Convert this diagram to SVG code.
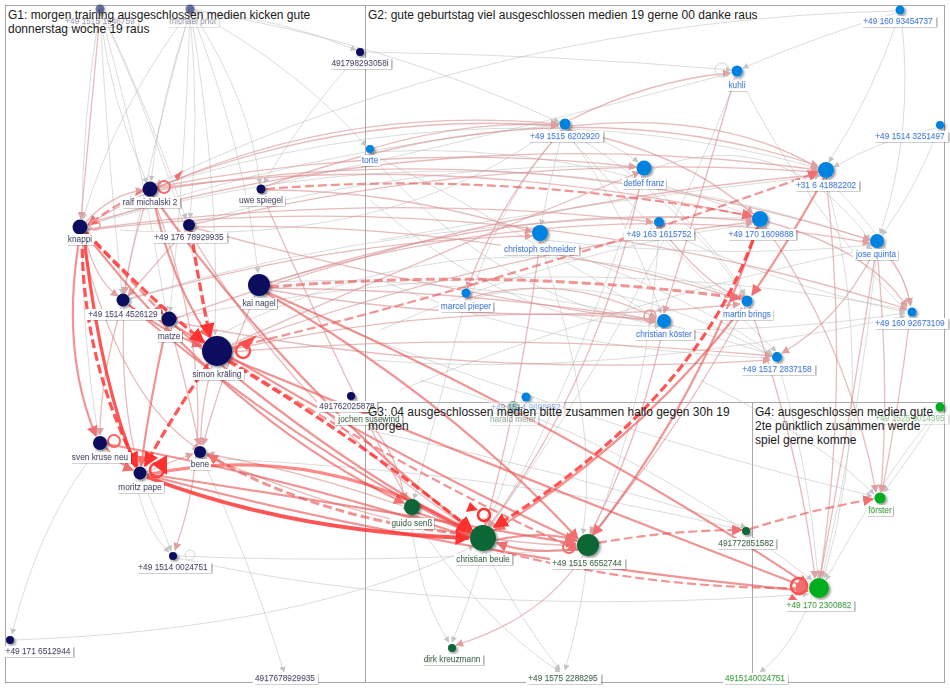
<svg xmlns="http://www.w3.org/2000/svg" width="950" height="688" viewBox="0 0 950 688">
<style>
.bx{fill:none;stroke:#a8a8a8;stroke-width:1}
.tt{font-family:"Liberation Sans",Arial,sans-serif;font-size:12px;fill:#1a1a1a}
.lb{font-family:"Liberation Sans",Arial,sans-serif;font-size:8.3px;text-anchor:middle;stroke-width:.25}
.t1{fill:#0a1262;stroke:#0a1262}.t2{fill:#0a7fdc;stroke:#0a7fdc}.t3{fill:#0b6634;stroke:#0b6634}.t4{fill:#08a81e;stroke:#08a81e}
.c1{fill:#081060}.c2{fill:#0683e0}.c3{fill:#0a6634}.c4{fill:#00ad1f}
.fd{opacity:.55}
#edges path{fill:none}
.g{stroke:#bcbcbc;stroke-width:.7;stroke-opacity:.75;marker-end:url(#mg)}
.l{stroke:#d98f8f;stroke-width:1.3;stroke-opacity:.6;marker-end:url(#ml)}
.m{stroke:#e85a5a;stroke-width:2.2;stroke-opacity:.65;marker-end:url(#mm)}
.s{stroke:#ff2a2a;stroke-width:3.2;stroke-opacity:.8;marker-end:url(#ms)}
.d{stroke-dasharray:9 4}
.lp{fill:none}
</style>
<defs>
<marker id="mg" viewBox="0 0 10 10" refX="9" refY="5" markerWidth="6" markerHeight="6" markerUnits="userSpaceOnUse" orient="auto"><path d="M0,0L10,5L0,10z" fill="#c4c4c4"/></marker>
<marker id="ml" viewBox="0 0 10 10" refX="9" refY="5" markerWidth="8" markerHeight="8" markerUnits="userSpaceOnUse" orient="auto"><path d="M0,0L10,5L0,10z" fill="#e0a0a0"/></marker>
<marker id="mm" viewBox="0 0 10 10" refX="9" refY="5" markerWidth="11" markerHeight="11" markerUnits="userSpaceOnUse" orient="auto"><path d="M0,0L10,5L0,10z" fill="#f07070"/></marker>
<marker id="ms" viewBox="0 0 10 10" refX="9" refY="5" markerWidth="15" markerHeight="15" markerUnits="userSpaceOnUse" orient="auto"><path d="M0,0L10,5L0,10z" fill="#ff3030"/></marker>
<filter id="lbf" x="-0.2" y="-0.4" width="1.5" height="2" primitiveUnits="objectBoundingBox">
<feFlood flood-color="#000" flood-opacity="0.3" x="0.01" y="0.15" width="1.05" height="1" result="s0"/>
<feGaussianBlur in="s0" stdDeviation="0.02 0.15" result="s"/>
<feFlood flood-color="#fff" x="-0.03" y="0" width="1.06" height="1.02" result="w"/>
<feMerge><feMergeNode in="s"/><feMergeNode in="w"/><feMergeNode in="SourceGraphic"/></feMerge>
</filter>
<filter id="nsh" x="-50%" y="-50%" width="200%" height="200%">
<feDropShadow dx="1.8" dy="1.8" stdDeviation="1.1" flood-opacity="0.4"/>
</filter>
</defs>
<rect width="950" height="688" fill="#fff"/>
<g id="groups">
<rect class="bx" x="5.5" y="5.5" width="939" height="677"/>
<line class="bx" x1="365.5" y1="5.5" x2="365.5" y2="682.5"/>
<line class="bx" x1="365.5" y1="402.5" x2="944.5" y2="402.5"/>
<line class="bx" x1="752.5" y1="402.5" x2="752.5" y2="682.5"/>
</g>
<g id="edges">
<path class="g" d="M190 13 Q160 100 151 181"/>
<path class="g" d="M188 13 Q115 110 83 219"/>
<path class="g" d="M190 14 Q200 120 190 218"/>
<path class="g" d="M190 14 Q185 170 170 312"/>
<path class="g" d="M191 14 Q220 190 215 335"/>
<path class="g" d="M192 13 Q245 150 258 273"/>
<path class="g" d="M193 13 Q250 100 260 184"/>
<path class="g" d="M195 10 Q285 20 356 50"/>
<path class="g" d="M195 12 Q300 70 366 146"/>
<path class="g" d="M189 14 Q150 150 124 294"/>
<path class="g" d="M196 11 Q380 40 559 122"/>
<path class="g" d="M100 14 Q110 100 147 183"/>
<path class="g" d="M100 14 Q108 160 122 294"/>
<path class="g" d="M101 14 Q145 170 166 312"/>
<path class="g" d="M102 13 Q150 110 186 219"/>
<path class="g" d="M102 13 Q180 180 212 336"/>
<path class="g" d="M99 14 Q65 230 98 435"/>
<path class="g" d="M357 56 Q300 120 264 183"/>
<path class="g" d="M365 52 Q560 55 731 70"/>
<path class="g" d="M895 11 Q500 20 156 184"/>
<path class="g" d="M896 13 Q820 35 743 68"/>
<path class="g" d="M899 15 Q875 90 829 162"/>
<path class="g" d="M901 15 Q915 130 880 234"/>
<path class="g" d="M936 128 Q880 140 834 167"/>
<path class="g" d="M938 131 Q915 190 882 235"/>
<path class="g" d="M568 129 Q610 140 638 162"/>
<path class="g" d="M563 130 Q550 180 541 225"/>
<path class="g" d="M567 130 Q680 200 744 295"/>
<path class="g" d="M566 130 Q630 220 661 313"/>
<path class="g" d="M97 450 Q40 520 12 634"/>
<path class="g" d="M142 480 Q160 520 171 551"/>
<path class="g" d="M136 480 Q145 530 169 552"/>
<path class="g" d="M177 556 Q400 565 576 548"/>
<path class="g" d="M177 558 Q450 620 808 594"/>
<path class="g" d="M202 458 Q250 560 284 672"/>
<path class="g" d="M410 515 Q420 600 449 642"/>
<path class="g" d="M483 552 Q470 600 452 642"/>
<path class="g" d="M486 552 Q520 620 560 670"/>
<path class="g" d="M588 556 Q580 620 565 670"/>
<path class="g" d="M412 515 Q480 620 560 672"/>
<path class="g" d="M812 597 Q790 650 760 672"/>
<path class="g" d="M940 411 Q915 450 884 492"/>
<path class="g" d="M938 410 Q880 480 826 580"/>
<path class="g" d="M14 640 Q300 630 474 546"/>
<path class="g" d="M88 225 Q480 110 870 240"/>
<path class="g" d="M157 186 Q500 80 818 168"/>
<path class="g" d="M265 186 Q520 130 731 73"/>
<path class="g" d="M216 336 Q480 200 740 298"/>
<path class="g" d="M263 282 Q520 270 772 355"/>
<path class="g" d="M176 318 Q550 240 907 310"/>
<path class="g" d="M130 298 Q420 210 753 218"/>
<path class="g" d="M194 222 Q420 160 637 167"/>
<path class="g" d="M86 226 Q300 150 558 125"/>
<path class="g" d="M370 153 Q520 230 656 318"/>
<path class="g" d="M372 152 Q560 140 752 216"/>
<path class="g" d="M737 77 Q640 320 490 527"/>
<path class="g" d="M644 176 Q560 420 490 528"/>
<path class="g" d="M540 242 Q600 420 583 534"/>
<path class="g" d="M877 249 Q860 420 822 578"/>
<path class="g" d="M826 178 Q880 380 824 578"/>
<path class="g" d="M778 362 Q810 470 818 578"/>
<path class="g" d="M466 299 Q440 400 414 499"/>
<path class="g" d="M526 402 Q510 470 488 526"/>
<path class="g" d="M659 228 Q650 400 592 534"/>
<path class="g" d="M367 430 Q560 470 746 527"/>
<path class="g" d="M200 458 Q500 470 742 530"/>
<path class="g" d="M250 290 Q560 420 872 496"/>
<path class="g" d="M120 230 Q400 250 560 122"/>
<path class="g" d="M470 300 Q600 260 770 355"/>
<path class="g" d="M545 240 Q720 260 872 245"/>
<path class="g" d="M650 170 Q780 120 870 240"/>
<path class="g" d="M740 78 Q800 200 905 310"/>
<path class="g" d="M665 330 Q800 330 905 313"/>
<path class="g" d="M370 155 Q500 300 660 325"/>
<path class="g" d="M380 240 Q600 200 820 176"/>
<path class="g" d="M380 330 Q560 250 752 224"/>
<path class="g" d="M370 360 Q600 380 905 316"/>
<path class="g" d="M400 390 Q620 300 872 248"/>
<path class="g" d="M470 300 Q500 200 562 130"/>
<path class="g" d="M540 242 Q700 300 772 354"/>
<path class="g" d="M660 228 Q760 280 905 312"/>
<path class="g" d="M644 176 Q720 250 745 295"/>
<path class="g" d="M826 178 Q900 250 911 306"/>
<path class="g" d="M370 200 Q520 330 660 326"/>
<path class="g" d="M380 280 Q540 350 770 358"/>
<path class="g" d="M560 128 Q720 300 776 351"/>
<path class="g" d="M700 380 Q820 440 874 494"/>
<path class="g" d="M420 380 Q620 430 812 580"/>
<path class="l" d="M100 14 Q90 120 81 219"/>
<path class="l" d="M570 120 Q650 80 730 73"/>
<path class="l" d="M571 126 Q720 110 818 168"/>
<path class="l" d="M568 130 Q680 150 753 214"/>
<path class="l" d="M562 130 Q500 200 467 289"/>
<path class="l" d="M374 148 Q470 120 558 125"/>
<path class="l" d="M88 224 Q300 100 558 124"/>
<path class="l" d="M157 187 Q350 110 558 126"/>
<path class="l" d="M88 223 Q450 120 818 170"/>
<path class="l" d="M158 188 Q450 150 753 217"/>
<path class="l" d="M158 190 Q520 130 870 240"/>
<path class="l" d="M195 224 Q500 150 818 172"/>
<path class="l" d="M196 227 Q480 220 740 299"/>
<path class="l" d="M266 190 Q400 190 532 232"/>
<path class="l" d="M270 283 Q520 200 753 221"/>
<path class="l" d="M270 282 Q580 190 870 243"/>
<path class="l" d="M231 350 Q450 300 656 320"/>
<path class="l" d="M230 346 Q500 250 753 222"/>
<path class="l" d="M176 318 Q500 200 819 175"/>
<path class="l" d="M130 299 Q330 240 532 236"/>
<path class="l" d="M88 229 Q380 190 653 222"/>
<path class="l" d="M88 230 Q500 180 907 309"/>
<path class="l" d="M230 352 Q500 330 772 356"/>
<path class="l" d="M270 288 Q470 290 656 320"/>
<path class="l" d="M157 187 Q400 140 636 167"/>
<path class="l" d="M735 77 Q700 200 664 313"/>
<path class="l" d="M750 307 Q800 450 815 578"/>
<path class="l" d="M910 316 Q900 400 882 492"/>
<path class="l" d="M877 250 Q890 380 881 492"/>
<path class="l" d="M876 250 Q850 420 820 578"/>
<path class="l" d="M826 178 Q850 380 820 578"/>
<path class="l" d="M765 226 Q850 350 876 492"/>
<path class="l" d="M663 328 Q640 440 590 534"/>
<path class="l" d="M540 242 Q520 400 485 526"/>
<path class="l" d="M642 176 Q600 380 488 527"/>
<path class="l" d="M875 250 Q840 320 782 353"/>
<path class="l" d="M880 250 Q905 270 910 305"/>
<path class="l" d="M768 222 Q870 250 907 307"/>
<path class="l" d="M583 556 Q540 620 456 645"/>
<path class="l" d="M86 222 Q110 195 143 190"/>
<path class="l" d="M84 234 Q95 280 118 296"/>
<path class="l" d="M148 196 Q130 250 124 294"/>
<path class="l" d="M185 231 Q150 270 128 296"/>
<path class="l" d="M153 197 Q230 400 175 550"/>
<path class="l" d="M121 308 Q100 380 100 435"/>
<path class="l" d="M124 308 Q120 400 138 466"/>
<path class="l" d="M212 366 Q200 410 201 445"/>
<path class="l" d="M171 328 Q190 400 199 445"/>
<path class="l" d="M255 296 Q220 380 203 445"/>
<path class="l" d="M403 506 Q300 470 207 454"/>
<path class="l" d="M147 472 Q175 460 193 454"/>
<path class="l" d="M350 400 Q400 450 404 500"/>
<path class="l" d="M260 190 Q330 350 407 500"/>
<path class="l" d="M190 232 Q300 420 473 531"/>
<path class="l" d="M205 455 Q400 540 577 546"/>
<path class="l" d="M80 236 Q120 400 200 450"/>
<path class="l" d="M745 307 Q680 430 592 535"/>
<path class="l" d="M266 186 Q560 80 818 166"/>
<path class="l" d="M232 344 Q420 260 640 172"/>
<path class="l" d="M195 228 Q420 290 656 322"/>
<path class="l" d="M270 290 Q500 330 740 304"/>
<path class="l" d="M176 322 Q450 380 770 360"/>
<path class="l" d="M466 299 Q560 270 656 318"/>
<path class="l" d="M660 228 Q720 300 746 296"/>
<path class="m" d="M80 235 Q60 350 96 436"/>
<path class="m" d="M166 328 Q150 400 141 466"/>
<path class="m" d="M106 448 Q120 465 133 470"/>
<path class="m" d="M153 196 Q170 280 209 337"/>
<path class="m" d="M175 326 Q190 335 203 343"/>
<path class="m" d="M129 305 Q160 330 202 346"/>
<path class="m" d="M266 293 Q450 400 578 539"/>
<path class="m" d="M267 292 Q560 420 808 585"/>
<path class="m" d="M229 358 Q500 470 808 588"/>
<path class="m" d="M229 356 Q420 470 577 541"/>
<path class="m" d="M153 196 Q300 400 473 531"/>
<path class="m" d="M175 326 Q330 460 472 533"/>
<path class="m" d="M85 233 Q230 420 404 503"/>
<path class="m" d="M147 474 Q380 510 576 544"/>
<path class="m" d="M147 475 Q470 560 808 591"/>
<path class="m" d="M107 444 Q300 480 470 537"/>
<path class="m" d="M129 305 Q300 450 472 534"/>
<path class="m" d="M742 308 Q640 440 495 530"/>
<path class="m" d="M824 178 Q790 240 752 295"/>
<path class="m" d="M758 227 Q700 400 593 535"/>
<path class="m" d="M497 540 Q540 530 575 540"/>
<path class="m" d="M576 549 Q530 555 497 543"/>
<path class="m" d="M403 508 Q440 520 470 532"/>
<path class="m d" d="M143 191 Q115 205 88 225"/>
<path class="m d" d="M495 550 Q650 590 806 588"/>
<path class="m d" d="M598 543 Q670 530 742 530"/>
<path class="m d" d="M750 529 Q810 510 873 499"/>
<path class="m d" d="M266 189 Q500 170 752 216"/>
<path class="m d" style="stroke-width:3" d="M270 287 Q505 267 740 298"/>
<path class="m d" d="M231 348 Q520 280 818 172"/>
<path class="m d" style="stroke-width:3" d="M472 535 Q320 520 208 455"/>
<path class="m d" d="M86 233 Q130 280 163 314"/>
<path class="m d" d="M230 360 Q420 480 578 550"/>
<path class="s" d="M84 236 Q100 380 136 467"/>
<path class="s d" d="M82 236 Q82 358 137 466"/>
<path class="s d" d="M208 364 Q170 420 145 466"/>
<path class="s" style="stroke-width:4" d="M147 477 Q291 532 469 538"/>
<path class="s d" d="M228 361 Q360 440 472 530"/>
<path class="s d" d="M191 231 Q200 290 210 337"/>
<path class="s d" d="M86 232 Q140 290 204 342"/>
<path class="s d" d="M757 228 Q700 400 494 527"/>
<path class="s" style="stroke-opacity:.55" d="M150 474 Q320 440 470 532"/>
</g>
<g id="loops">
<circle class="lp" cx="164" cy="187" r="6" stroke="#f07070" stroke-width="2"/>
<path d="M174 176 L183 170 L178 181z" fill="#f07070"/>
<circle class="lp" cx="95" cy="225" r="5" stroke="#f0a0a0" stroke-width="1.5"/>
<circle class="lp" cx="243" cy="351" r="7" stroke="#ff5050" stroke-width="2.5"/>
<path d="M238 343 L257 335 L247 350z" fill="#ff5050"/>
<circle class="lp" cx="114" cy="441" r="6" stroke="#ff6060" stroke-width="2"/>
<circle class="lp" cx="157" cy="470" r="7" stroke="#ff4040" stroke-width="2.5"/>
<path d="M152 464 L167 455 L167 475z" fill="#ff3030"/>
<circle class="lp" cx="484" cy="515" r="6" stroke="#ff3030" stroke-width="2.5"/>
<path d="M478 510 L470 502 L466 512z" fill="#ff3030"/>
<circle class="lp" cx="569" cy="547" r="6" stroke="#f07070" stroke-width="2"/>
<circle class="lp" cx="799" cy="586" r="8" stroke="#ff5050" stroke-width="2.5"/>
<path d="M792 594 L786 604 L800 603z" fill="#ff6060"/>
<circle class="lp" cx="722" cy="70" r="7" stroke="#cccccc" stroke-width="0.8"/>
<circle class="lp" cx="190" cy="555" r="5" stroke="#cccccc" stroke-width="0.8"/>
<circle class="lp" cx="650" cy="316" r="6" stroke="#e0a0a0" stroke-width="1.5"/>
</g>
<g id="nodes" filter="url(#nsh)">
<circle class="c1 fd" cx="100" cy="9" r="4.5"/>
<circle class="c1 fd" cx="190" cy="9" r="4.5"/>
<circle class="c1" cx="360" cy="52" r="4"/>
<circle class="c1" cx="150" cy="189" r="7.5"/>
<circle class="c1" cx="261" cy="189" r="4.5"/>
<circle class="c1" cx="80" cy="227" r="7.5"/>
<circle class="c1" cx="189" cy="225" r="6"/>
<circle class="c1" cx="259" cy="285" r="11"/>
<circle class="c1" cx="123" cy="300" r="6.5"/>
<circle class="c1" cx="169" cy="319" r="7.5"/>
<circle class="c1" cx="217" cy="351" r="15"/>
<circle class="c1" cx="351" cy="396" r="4"/>
<circle class="c1" cx="100" cy="443" r="7"/>
<circle class="c1" cx="200" cy="452" r="6"/>
<circle class="c1" cx="140" cy="473" r="6.5"/>
<circle class="c1" cx="173" cy="556" r="4"/>
<circle class="c1" cx="10" cy="640" r="4"/>
<circle class="c2" cx="900" cy="10" r="4.5"/>
<circle class="c2" cx="737" cy="71" r="5.5"/>
<circle class="c2" cx="565" cy="124" r="5.5"/>
<circle class="c2" cx="370" cy="149" r="4"/>
<circle class="c2" cx="940" cy="125" r="4"/>
<circle class="c2" cx="644" cy="168" r="7.5"/>
<circle class="c2" cx="826" cy="170" r="8"/>
<circle class="c2" cx="760" cy="219" r="8"/>
<circle class="c2" cx="659" cy="222" r="5"/>
<circle class="c2" cx="540" cy="233" r="8"/>
<circle class="c2" cx="877" cy="241" r="7"/>
<circle class="c2" cx="466" cy="293" r="4.5"/>
<circle class="c2" cx="747" cy="301" r="5.5"/>
<circle class="c2" cx="664" cy="321" r="7"/>
<circle class="c2" cx="912" cy="312" r="4.5"/>
<circle class="c2" cx="777" cy="357" r="5"/>
<circle class="c2" cx="526" cy="397" r="4.5"/>
<circle class="c3 fd" cx="368" cy="408" r="5"/>
<circle class="c3 fd" cx="513" cy="407" r="6"/>
<circle class="c3" cx="412" cy="507" r="8"/>
<circle class="c3" cx="483" cy="538" r="13"/>
<circle class="c3" cx="588" cy="545" r="11"/>
<circle class="c3" cx="746" cy="531" r="4"/>
<circle class="c3" cx="452" cy="648" r="4"/>
<circle class="c4" cx="940" cy="407" r="4.5"/>
<circle class="c4" cx="880" cy="498" r="5.5"/>
<circle class="c4" cx="819" cy="588" r="10"/>
</g>
<g id="labels" class="lb">
<g id="n-p1946759" class="fd"><text class="t1" x="100" y="24" filter="url(#lbf)">+49 1515 1946759</text></g>
<g id="n-michael-prior" class="fd"><text class="t1" x="193" y="24" filter="url(#lbf)">michael prior</text></g>
<g id="n-491798293058i"><text class="t1" x="360" y="66" filter="url(#lbf)">491798293058i</text></g>
<g id="n-ralf"><text class="t1" x="150" y="205" filter="url(#lbf)">ralf michalski 2</text></g>
<g id="n-uwe"><text class="t1" x="261" y="203" filter="url(#lbf)">uwe spiegel</text></g>
<g id="n-knappi"><text class="t1" x="80" y="242" filter="url(#lbf)">knappi</text></g>
<g id="n-p78929935"><text class="t1" x="189" y="240" filter="url(#lbf)">+49 176 78929935</text></g>
<g id="n-kai"><text class="t1" x="259" y="306" filter="url(#lbf)">kai nagel</text></g>
<g id="n-p4526129"><text class="t1" x="123" y="317" filter="url(#lbf)">+49 1514 4526129</text></g>
<g id="n-matze"><text class="t1" x="169" y="339" filter="url(#lbf)">matze</text></g>
<g id="n-simon"><text class="t1" x="217" y="377" filter="url(#lbf)">simon kräling</text></g>
<g id="n-491762025878"><text class="t1" x="347" y="409" filter="url(#lbf)">491762025878</text></g>
<g id="n-sven"><text class="t1" x="100" y="460" filter="url(#lbf)">sven kruse neu</text></g>
<g id="n-bene"><text class="t1" x="200" y="467" filter="url(#lbf)">bene</text></g>
<g id="n-moritz"><text class="t1" x="140" y="490" filter="url(#lbf)">moritz pape</text></g>
<g id="n-p0024751"><text class="t1" x="173" y="570" filter="url(#lbf)">+49 1514 0024751</text></g>
<g id="n-p6512944"><text class="t1" x="38" y="654" filter="url(#lbf)">+49 171 6512944</text></g>
<g id="n-4917678929935"><text class="t1" x="285" y="681" filter="url(#lbf)">4917678929935</text></g>
<g id="n-p93454737"><text class="t2" x="898" y="24" filter="url(#lbf)">+49 160 93454737</text></g>
<g id="n-kuhli"><text class="t2" x="737" y="88" filter="url(#lbf)">kuhli</text></g>
<g id="n-p6202920"><text class="t2" x="565" y="139" filter="url(#lbf)">+49 1515 6202920</text></g>
<g id="n-torte"><text class="t2" x="370" y="163" filter="url(#lbf)">torte</text></g>
<g id="n-p3251497"><text class="t2" x="910" y="139" filter="url(#lbf)">+49 1514 3251497</text></g>
<g id="n-detlef"><text class="t2" x="644" y="186" filter="url(#lbf)">detlef franz</text></g>
<g id="n-p41882202"><text class="t2" x="826" y="188" filter="url(#lbf)">+31 6 41882202</text></g>
<g id="n-p1609888"><text class="t2" x="761" y="237" filter="url(#lbf)">+49 170 1609888</text></g>
<g id="n-p1615752"><text class="t2" x="659" y="237" filter="url(#lbf)">+49 163 1615752</text></g>
<g id="n-christoph"><text class="t2" x="540" y="252" filter="url(#lbf)">christoph schneider</text></g>
<g id="n-jose"><text class="t2" x="876" y="257" filter="url(#lbf)">jose quinta</text></g>
<g id="n-marcel"><text class="t2" x="466" y="309" filter="url(#lbf)">marcel pieper</text></g>
<g id="n-martin"><text class="t2" x="747" y="317" filter="url(#lbf)">martin brings</text></g>
<g id="n-koester"><text class="t2" x="664" y="337" filter="url(#lbf)">christian köster</text></g>
<g id="n-p92673109"><text class="t2" x="910" y="326" filter="url(#lbf)">+49 160 92673109</text></g>
<g id="n-p2837158"><text class="t2" x="777" y="372" filter="url(#lbf)">+49 1517 2837158</text></g>
<g id="n-p9808852" class="fd"><text class="t2" x="526" y="410" filter="url(#lbf)">+49 1514 9808852</text></g>
<g id="n-jochen"><text class="t3" x="369" y="422" filter="url(#lbf)">jochen susewind</text></g>
<g id="n-harald" class="fd"><text class="t3" x="513" y="422" filter="url(#lbf)">harald meier</text></g>
<g id="n-guido"><text class="t3" x="412" y="526" filter="url(#lbf)">guido senß</text></g>
<g id="n-beule"><text class="t3" x="483" y="562" filter="url(#lbf)">christian beule</text></g>
<g id="n-p6552744"><text class="t3" x="587" y="566" filter="url(#lbf)">+49 1515 6552744</text></g>
<g id="n-491772851582"><text class="t3" x="746" y="546" filter="url(#lbf)">491772851582</text></g>
<g id="n-dirk"><text class="t3" x="452" y="662" filter="url(#lbf)">dirk kreuzmann</text></g>
<g id="n-p2288295"><text class="t3" x="563" y="681" filter="url(#lbf)">+49 1575 2288295</text></g>
<g id="n-p9014395" class="fd"><text class="t4" x="910" y="421" filter="url(#lbf)">+49 1525 9014395</text></g>
<g id="n-foerster"><text class="t4" x="880" y="513" filter="url(#lbf)">förster</text></g>
<g id="n-p2300882"><text class="t4" x="819" y="608" filter="url(#lbf)">+49 170 2300882</text></g>
<g id="n-4915140024751"><text class="t4" x="755" y="681" filter="url(#lbf)">4915140024751</text></g>
</g>
<g id="titles" class="tt">
<text x="8" y="19">G1: morgen training ausgeschlossen medien kicken gute</text>
<text x="8" y="33">donnerstag woche 19 raus</text>
<text x="368" y="19">G2: gute geburtstag viel ausgeschlossen medien 19 gerne 00 danke raus</text>
<text x="368" y="416">G3: 04 ausgeschlossen medien bitte zusammen hallo gegen 30h 19</text>
<text x="368" y="430">morgen</text>
<text x="755" y="416">G4: ausgeschlossen medien gute</text>
<text x="755" y="430">2te pünktlich zusammen werde</text>
<text x="755" y="444">spiel gerne komme</text>
</g>
</svg>
